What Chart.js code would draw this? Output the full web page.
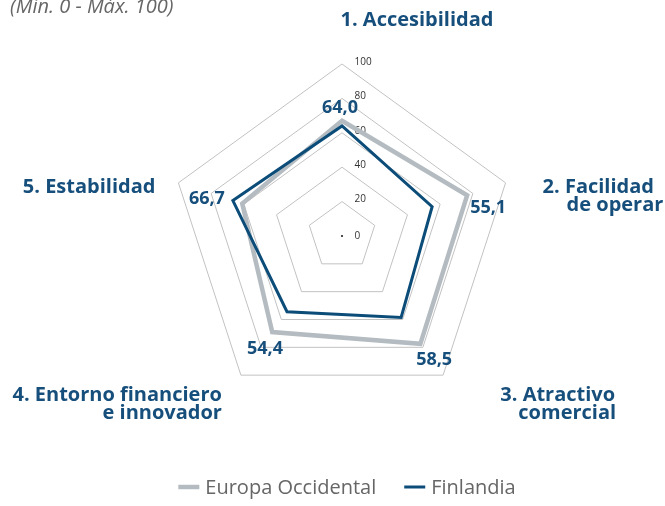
<!DOCTYPE html>
<html>
<head>
<meta charset="utf-8">
<script src="https://cdn.jsdelivr.net/npm/chart.js@4.4.1/dist/chart.umd.min.js"></script>
<style>
  html, body { margin: 0; padding: 0; background: #fff; }
  #wrap { width: 665px; height: 506px; position: relative; }
</style>
</head>
<body>
<div id="wrap"><canvas id="radar"></canvas></div>
<script>
// ── Datos ──
const ejes = [
  ['1. Accesibilidad'],
  ['2. Facilidad', 'de operar'],
  ['3. Atractivo', 'comercial'],
  ['4. Entorno financiero', 'e innovador'],
  ['5. Estabilidad']
];
const europaOccidental = [67, 76.5, 77.5, 69, 61];
const finlandia = [64.0, 55.1, 58.5, 54.4, 66.7];
const ticksEscala = [0, 20, 40, 60, 80, 100];
const subtitulo = '(Mín. 0 - Máx. 100)';

// ── Estilo ──
const AZUL = '#0b4c78';
const AZUL_TXT = '#174f7c';
const GRIS = '#b4bcc1';
const FONT = "'Open Sans', sans-serif";

// posicion de titulos relativa al vertice 100 de cada eje
const titulosPos = [
  { align: 'center', dx: [75], dy: -38 },
  { align: 'left', dx: [37, 61], dy: 10 },
  { align: 'right', dx: [172, 173], dy: 26 },
  { align: 'right', dx: [-19, -19], dy: 26 },
  { align: 'right', dx: [-23], dy: 10 }
];
// desplazamiento de etiquetas de valor (Finlandia)
const etiquetasPos = [[-2, -18], [56, 1], [33, 42], [-22, 37], [-26, -2]];

const fmt = v => v.toFixed(1).replace('.', ',');

const decoraciones = {
  id: 'decoraciones',
  beforeDatasetsDraw(chart) {
    const ctx = chart.ctx;
    const r = chart.scales.r;
    ctx.save();
    // ticks de la escala
    ctx.font = "10px " + FONT;
    ctx.fillStyle = '#333';
    ctx.textAlign = 'left';
    ctx.textBaseline = 'middle';
    ticksEscala.forEach(t => {
      const p = r.getPointPositionForValue(0, t);
      ctx.fillText(String(t), r.xCenter + 12.5, t === 0 ? r.yCenter : p.y - 2);
    });
    // punto central
    ctx.fillStyle = '#222';
    ctx.beginPath();
    ctx.arc(r.xCenter, r.yCenter, 1.1, 0, Math.PI * 2);
    ctx.fill();
    ctx.restore();
  },
  afterDraw(chart) {
    const ctx = chart.ctx;
    const r = chart.scales.r;
    ctx.save();

    // subtitulo (cortado arriba)
    ctx.font = "italic 20px " + FONT;
    ctx.fillStyle = '#666';
    ctx.textAlign = 'left';
    ctx.textBaseline = 'alphabetic';
    ctx.fillText(subtitulo, 10, 13);

    // titulos de ejes
    ctx.font = "bold 20px " + FONT;
    ctx.fillStyle = AZUL_TXT;
    ejes.forEach((lineas, i) => {
      const v = r.getPointPositionForValue(i, 100);
      const pos = titulosPos[i];
      ctx.textAlign = pos.align;
      lineas.forEach((txt, j) => {
        ctx.fillText(txt, v.x + pos.dx[j], v.y + pos.dy + j * 18);
      });
    });

    // etiquetas de valor
    ctx.font = "bold 18px " + FONT;
    ctx.textAlign = 'center';
    ctx.textBaseline = 'middle';
    finlandia.forEach((val, i) => {
      const p = r.getPointPositionForValue(i, val);
      ctx.fillText(fmt(val), p.x + etiquetasPos[i][0], p.y + etiquetasPos[i][1]);
    });

    // leyenda
    ctx.font = "20px " + FONT;
    const items = chart.data.datasets.map(ds => ({ text: ds.label, color: ds.borderColor, lw: ds.borderWidth }));
    const marca = 21, gap = 6, sep = 28;
    let total = 0;
    items.forEach((it, k) => {
      it.w = ctx.measureText(it.text).width;
      total += marca + gap + it.w + (k ? sep : 0);
    });
    let x = 347 - total / 2;
    const y = 487;
    ctx.textAlign = 'left';
    items.forEach(it => {
      ctx.strokeStyle = it.color;
      ctx.lineWidth = it.lw;
      ctx.beginPath();
      ctx.moveTo(x, y);
      ctx.lineTo(x + marca, y);
      ctx.stroke();
      ctx.fillStyle = '#666';
      ctx.fillText(it.text, x + marca + gap, y + 1);
      x += marca + gap + it.w + sep;
    });

    ctx.restore();
  }
};

new Chart(document.getElementById('radar'), {
  type: 'radar',
  data: {
    labels: ejes,
    datasets: [
      {
        label: 'Europa Occidental',
        data: europaOccidental,
        borderColor: GRIS,
        borderWidth: 4.5,
        backgroundColor: 'transparent',
        fill: false,
        pointRadius: 0,
        borderJoinStyle: 'miter',
        order: 1
      },
      {
        label: 'Finlandia',
        data: finlandia,
        borderColor: AZUL,
        borderWidth: 3,
        backgroundColor: 'transparent',
        fill: false,
        pointRadius: 0,
        borderJoinStyle: 'miter',
        order: 0
      }
    ]
  },
  options: {
    responsive: true,
    maintainAspectRatio: false,
    animation: false,
    layout: { padding: { left: 170, right: 150, top: 64, bottom: 98 } },
    plugins: {
      legend: { display: false },
      tooltip: { enabled: false }
    },
    elements: { line: { tension: 0 } },
    scales: {
      r: {
        min: 0,
        max: 100,
        ticks: { stepSize: 20, display: false },
        grid: { color: '#c2c2c2', lineWidth: 1 },
        angleLines: { display: false },
        pointLabels: { display: false }
      }
    }
  },
  plugins: [decoraciones]
});
</script>
</body>
</html>
